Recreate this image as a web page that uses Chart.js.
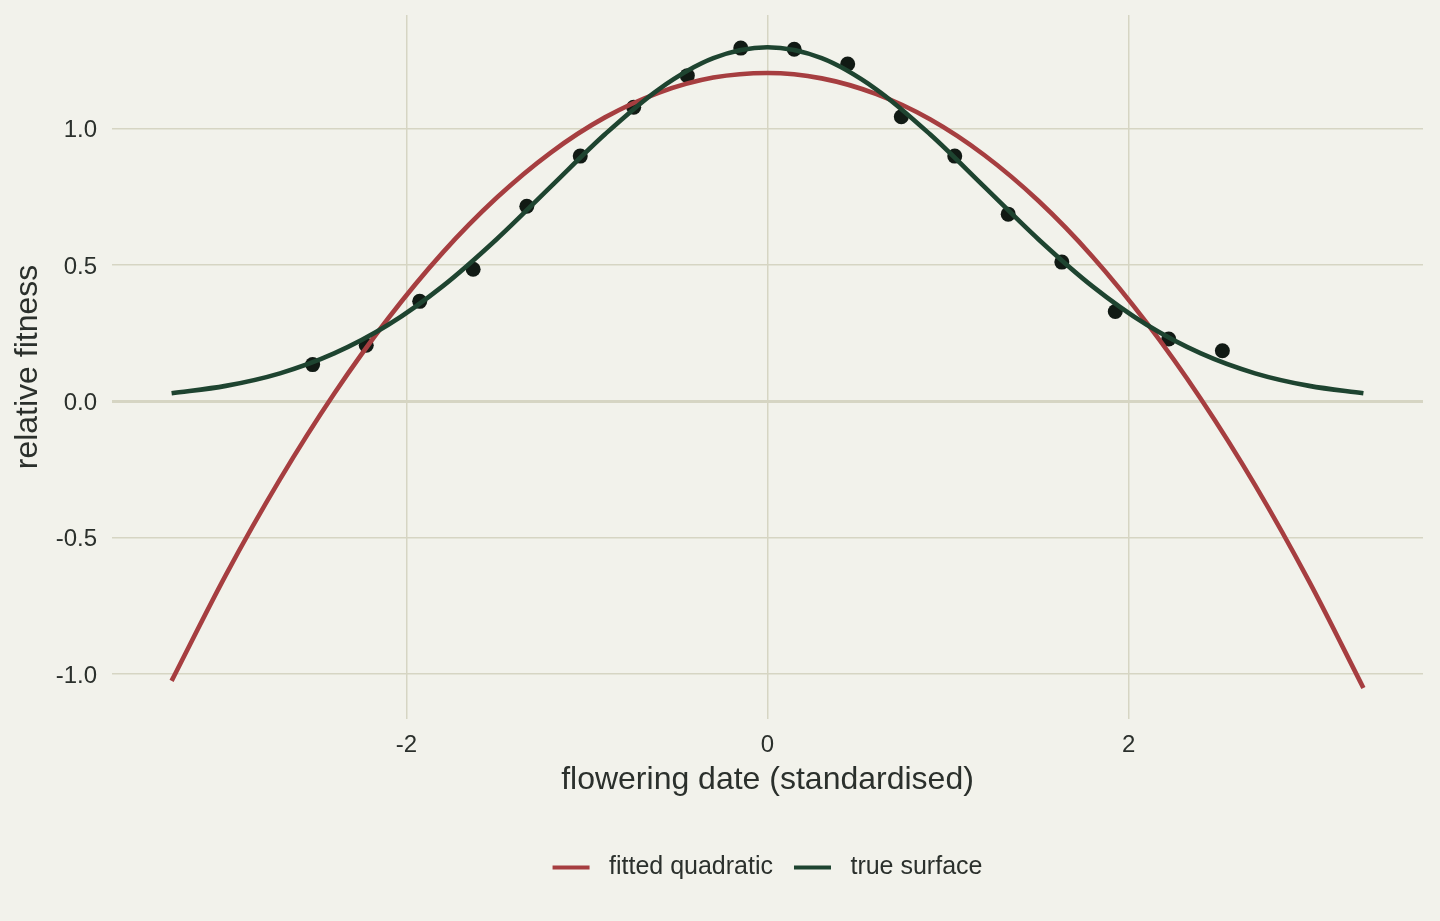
<!DOCTYPE html>
<html>
<head>
<meta charset="utf-8">
<script src="https://cdn.jsdelivr.net/npm/chart.js@4.4.0/dist/chart.umd.min.js"></script>
<style>
  html, body { margin: 0; padding: 0; background: #f2f2eb; }
</style>
</head>
<body>
<canvas id="fitchart" width="1440" height="921"></canvas>
<script>
// curves, every 0.3 units
var curveX = [-3.3, -3.0, -2.7, -2.4, -2.1, -1.8, -1.5, -1.2, -0.9, -0.6, -0.3, 0,
              0.3, 0.6, 0.9, 1.2, 1.5, 1.8, 2.1, 2.4, 2.7, 3.0, 3.3]
var quadY = [-1.025, -0.637, -0.286, 0.028, 0.305, 0.545, 0.747, 0.913, 1.042, 1.133, 1.188, 1.205,
             1.185, 1.128, 1.035, 0.904, 0.736, 0.531, 0.288, 0.009, -0.307, -0.661, -1.051]
var trueY = [0.030, 0.057, 0.103, 0.176, 0.281, 0.422, 0.595, 0.788, 0.980, 1.146, 1.259, 1.299,
             1.259, 1.146, 0.980, 0.788, 0.595, 0.422, 0.281, 0.176, 0.103, 0.057, 0.030]

// observed points
var obsX = [-2.519, -2.222, -1.926, -1.630, -1.333, -1.037, -0.741, -0.444, -0.148,
             0.148, 0.444, 0.741, 1.037, 1.333, 1.630, 1.926, 2.222, 2.519]
var obsY = [0.135, 0.206, 0.367, 0.485, 0.716, 0.900, 1.079, 1.195, 1.296,
            1.292, 1.238, 1.044, 0.900, 0.687, 0.511, 0.330, 0.229, 0.186]

var xTicks = [-2, 0, 2]
var yTicks = [-1, -0.5, 0, 0.5, 1]

var redCol = '#a63e40'
var greenCol = '#1e4430'
var inkCol = '#2b302c'
var gridCol = '#d6d5c3'

const toPoints = (xs, ys) => xs.map((x, i) => ({ x: x, y: ys[i] }))

// no extra room for labels hanging past the panel edges
const noOverhang = (s) => {
    s.paddingTop = 0
    s.paddingBottom = 0
    s.paddingLeft = 0
    s.paddingRight = 0
}

Chart.defaults.font.family = '"Liberation Sans", Arial, sans-serif'
Chart.defaults.color = inkCol

var chartFit = new Chart(document.getElementById('fitchart'), {
    type: 'scatter',
    data: {
        datasets: [{
            label: 'fitted quadratic',
            data: toPoints(curveX, quadY),
            showLine: true,
            borderColor: redCol,
            backgroundColor: redCol,
            borderWidth: 4.6,
            pointRadius: 0,
            cubicInterpolationMode: 'monotone',
            order: 2
        }, {
            label: 'true surface',
            data: toPoints(curveX, trueY),
            showLine: true,
            borderColor: greenCol,
            backgroundColor: greenCol,
            borderWidth: 4.6,
            pointRadius: 0,
            cubicInterpolationMode: 'monotone',
            order: 1
        }, {
            label: 'observed',
            data: toPoints(obsX, obsY),
            showLine: false,
            pointRadius: 7.5,
            pointBackgroundColor: '#111a14',
            pointBorderWidth: 0,
            order: 3
        }]
    },
    options: {
        responsive: false,
        animation: false,
        layout: { padding: { top: 15, right: 17, bottom: 31, left: 0 } },
        scales: {
            x: {
                type: 'linear',
                min: -3.63,
                max: 3.63,
                afterBuildTicks: (s) => { s.ticks = xTicks.map(v => ({ value: v })) },
                afterFit: (s) => { s.height = 115; noOverhang(s) },
                border: { display: false },
                grid: { color: gridCol, lineWidth: 1.5, drawTicks: false },
                ticks: { padding: 12, font: { size: 24 }, color: inkCol,
                         callback: (v) => String(v) },
                title: { display: true, text: 'flowering date (standardised)',
                         font: { size: 32 }, color: inkCol, padding: { top: 0, bottom: 35 } }
            },
            y: {
                type: 'linear',
                min: -1.165,
                max: 1.4175,
                afterBuildTicks: (s) => { s.ticks = yTicks.map(v => ({ value: v })) },
                afterFit: (s) => { s.width = 112; noOverhang(s) },
                border: { display: false },
                grid: {
                    color: gridCol,
                    lineWidth: (c) => (c.tick && c.tick.value === 0 ? 3 : 1.5),
                    drawTicks: false
                },
                ticks: { padding: 15, labelOffset: 2, font: { size: 24 }, color: inkCol,
                         callback: (v) => v.toFixed(1) },
                title: { display: true, text: 'relative fitness',
                         font: { size: 32 }, color: inkCol, padding: { top: 9, bottom: 0 } }
            }
        },
        plugins: {
            tooltip: { enabled: false },
            legend: {
                position: 'bottom',
                fullSize: false,
                labels: {
                    boxWidth: 37,
                    boxHeight: 4,
                    padding: 21,
                    color: inkCol,
                    font: { size: 25 },
                    sort: (a, b) => a.datasetIndex - b.datasetIndex,
                    generateLabels: (chart) => {
                        var items = Chart.defaults.plugins.legend.labels.generateLabels(chart)
                        return items.filter(it => it.datasetIndex < 2).map(it => {
                            it.text = ' ' + it.text
                            it.lineWidth = 0
                            return it
                        })
                    }
                }
            }
        }
    }
})
</script>
</body>
</html>
